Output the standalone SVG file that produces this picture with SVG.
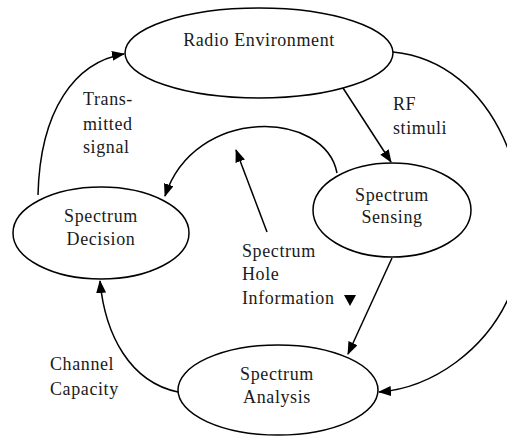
<svg xmlns="http://www.w3.org/2000/svg" width="507" height="437" viewBox="0 0 507 437">
<style>
.node{fill:#fff;stroke:#000;stroke-width:1.5}
.lbl{font-family:'Liberation Serif','Times New Roman','DejaVu Serif',serif;font-size:18px;letter-spacing:0.6px;fill:#1a1a1a}
.c{text-anchor:middle}
.edge{fill:none;stroke:#000;stroke-width:1.5;marker-end:url(#ah)}
</style>
<defs>
<marker id="ah" markerUnits="userSpaceOnUse" markerWidth="14" markerHeight="12" refX="12" refY="5" orient="auto">
<path d="M0,0 L13,5 L0,10 Z" fill="#000"/>
</marker>
</defs>
<rect width="507" height="437" fill="#fff"/>
<g id="connectors">
<path class="edge" d="M38,195 C40,110 75,62 124,54"/>
<path class="edge" d="M343,88 L391,162"/>
<path class="edge" d="M337,173 C325,110 195,105 165,196"/>
<path class="edge" d="M267,232 L236,150"/>
<path class="edge" d="M392,258 L348,354"/>
<path class="edge" d="M393,52 C495,62 545,190 512,290 C488,350 432,388 379,392"/>
<path class="edge" d="M178,392 C130,382 105,335 100,281"/>
<polygon points="344,295 356,295 350,306" fill="#000"/>
</g>
<g id="radio-environment">
<ellipse class="node" cx="259" cy="53" rx="134" ry="45"/>
<text class="lbl c" x="259" y="46">Radio Environment</text>
</g>
<g id="spectrum-sensing">
<ellipse class="node" cx="392" cy="210" rx="79" ry="47"/>
<text class="lbl c" x="392" y="201">Spectrum</text>
<text class="lbl c" x="392" y="223">Sensing</text>
</g>
<g id="spectrum-decision">
<ellipse class="node" cx="101" cy="233" rx="88" ry="46"/>
<text class="lbl c" x="101" y="222">Spectrum</text>
<text class="lbl c" x="101" y="245">Decision</text>
</g>
<g id="spectrum-analysis">
<ellipse class="node" cx="278" cy="390" rx="100" ry="45"/>
<text class="lbl c" x="277" y="380">Spectrum</text>
<text class="lbl c" x="277" y="403">Analysis</text>
</g>
<g id="labels">
<text class="lbl" x="83" y="105">Trans-</text>
<text class="lbl" x="83" y="130">mitted</text>
<text class="lbl" x="83" y="153">signal</text>
<text class="lbl" x="393" y="110">RF</text>
<text class="lbl" x="393" y="134">stimuli</text>
<text class="lbl" x="242" y="257">Spectrum</text>
<text class="lbl" x="242" y="280">Hole</text>
<text class="lbl" x="242" y="304">Information</text>
<text class="lbl" x="50" y="370">Channel</text>
<text class="lbl" x="50" y="395">Capacity</text>
</g>
</svg>
